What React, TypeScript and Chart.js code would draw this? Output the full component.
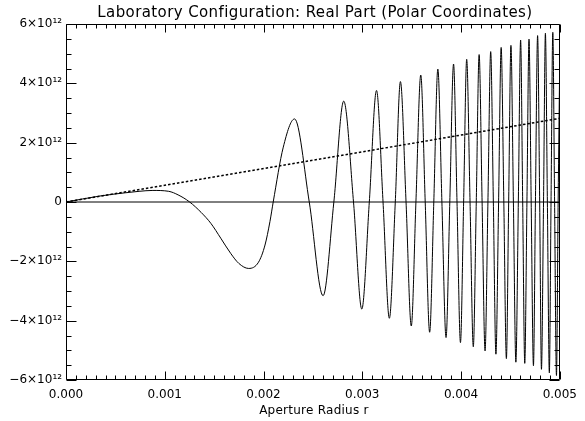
import React, { useEffect, useRef } from 'react';
import { Chart, registerables } from 'chart.js';

Chart.register(...registerables);

// Aperture radius samples (extrema, zero crossings, shape points)
const RADIUS = [
  0, 0.00034, 0.0006, 0.00074, 0.00088, 0.00104, 0.001135, 0.001252,
  0.001368, 0.001467, 0.001567, 0.001667, 0.00175, 0.00185, 0.001949, 0.002015,
  0.002065, 0.002098, 0.0022, 0.002314, 0.002463, 0.002603, 0.002712,
  0.002812, 0.002911, 0.002995, 0.003071, 0.003144, 0.00321, 0.003274, 0.003334,
  0.003386, 0.003443, 0.003496, 0.003543, 0.003592, 0.003637, 0.003682, 0.003724,
  0.003765, 0.003806, 0.003848, 0.003886, 0.003924, 0.003959, 0.003994, 0.004026,
  0.004057, 0.004091, 0.004124, 0.004154, 0.004183, 0.004213, 0.004243, 0.004272,
  0.0043, 0.004327, 0.004353, 0.00438, 0.004406, 0.004433, 0.004459, 0.004482,
  0.004505, 0.00453, 0.004555, 0.00458, 0.004603, 0.004624, 0.004645, 0.004667,
  0.004688, 0.00471, 0.004733, 0.004753, 0.004775, 0.004796, 0.004814, 0.004835,
  0.004854, 0.004874, 0.004894, 0.004911, 0.004929, 0.004947, 0.004966, 0.004983,
  0.005,
];

// Real part values (units of 1e12)
const REAL_PART_E12 = [
  0, 0.2, 0.31, 0.36, 0.39, 0.36, 0.24, 0,
  -0.35, -0.72, -1.22, -1.73, -2.07, -2.24, -2.03, -1.45,
  -0.66, 0, 1.85, 2.8, 0, -3.16, 0,
  3.4, 0, -3.61, 0, 3.76, 0, -3.92, 0,
  4.06, 0, -4.18, 0, 4.28, 0, -4.39, 0,
  4.48, 0, -4.57, 0, 4.65, 0, -4.74, 0,
  4.81, 0, -4.88, 0, 4.97, 0, -5.02, 0,
  5.07, 0, -5.13, 0, 5.21, 0, -5.28, 0,
  5.28, 0, -5.4, 0, 5.46, 0, -5.44, 0,
  5.49, 0, -5.52, 0, 5.61, 0, -5.64, 0,
  5.69, 0, -5.76, 0, 5.72, 0, -5.85, 0,
  5.0,
];

// Dotted reference line
const TREND_RADIUS = [0, 0.005];
const TREND_E12 = [0, 2.82];

// Zero line
const ZERO_RADIUS = [0, 0.005];
const ZERO_E12 = [0, 0];

const X_TICKS = [0, 0.001, 0.002, 0.003, 0.004, 0.005];
const X_TICK_LABELS = ['0.000', '0.001', '0.002', '0.003', '0.004', '0.005'];
const Y_TICKS_E12 = [-6, -4, -2, 0, 2, 4, 6];
const Y_TICK_LABELS = ['\u22126\u00d710\u00b9\u00b2', '\u22124\u00d710\u00b9\u00b2', '\u22122\u00d710\u00b9\u00b2', '0', '2\u00d710\u00b9\u00b2', '4\u00d710\u00b9\u00b2', '6\u00d710\u00b9\u00b2'];
const X_MINOR_STEP = 0.0001;
const Y_MINOR_STEP_E12 = 0.5;

const TITLE = 'Laboratory Configuration: Real Part (Polar Coordinates)';
const X_TITLE = 'Aperture Radius r';
const FONT = '"DejaVu Sans", sans-serif';

const E12 = 1e12;

const idlFrame = {
  id: 'idlFrame',
  afterDraw(chart: any) {
    const { ctx, chartArea: a, scales } = chart;
    const xs = scales.x;
    const ys = scales.y;
    const L = Math.round(a.left) + 0.5;
    const R = Math.round(a.right) - 0.5;
    const T = Math.round(a.top) + 0.5;
    const B = Math.round(a.bottom) - 0.5;
    ctx.save();
    ctx.strokeStyle = '#000';
    ctx.lineWidth = 1;
    ctx.beginPath();
    ctx.rect(L, T, R - L, B - T);
    // x ticks (major + minor, inward, bottom and top)
    const nx = Math.round((xs.max - xs.min) / X_MINOR_STEP);
    for (let i = 0; i <= nx; i++) {
      const v = xs.min + i * X_MINOR_STEP;
      const major = X_TICKS.some((t) => Math.abs(t - v) < X_MINOR_STEP / 10);
      const len = major ? 8 : 4;
      const px = Math.round(xs.getPixelForValue(v)) + 0.5;
      ctx.moveTo(px, B);
      ctx.lineTo(px, B - len);
      ctx.moveTo(px, T);
      ctx.lineTo(px, T + len);
    }
    // y ticks (major + minor, inward, left and right)
    const ny = Math.round((ys.max - ys.min) / (Y_MINOR_STEP_E12 * E12));
    for (let i = 0; i <= ny; i++) {
      const v = ys.min + i * Y_MINOR_STEP_E12 * E12;
      const major = Y_TICKS_E12.some((t) => Math.abs(t * E12 - v) < E12 / 10);
      const len = major ? 10 : 5;
      const py = Math.round(ys.getPixelForValue(v)) + 0.5;
      ctx.moveTo(L, py);
      ctx.lineTo(L + len, py);
      ctx.moveTo(R, py);
      ctx.lineTo(R - len, py);
    }
    ctx.stroke();
    ctx.fillStyle = '#000';
    ctx.textAlign = 'center';
    ctx.textBaseline = 'alphabetic';
    ctx.font = '15px ' + FONT;
    try { (ctx as any).letterSpacing = '0.4px'; } catch (e) { /* ignore */ }
    ctx.fillText(TITLE, (a.left + a.right) / 2 + 2, 17);
    ctx.font = '12px ' + FONT;
    try { (ctx as any).letterSpacing = '0.25px'; } catch (e) { /* ignore */ }
    ctx.fillText(X_TITLE, (a.left + a.right) / 2 + 1, 413.5);
    try { (ctx as any).letterSpacing = '0px'; } catch (e) { /* ignore */ }
    ctx.restore();
  },
};

export default function App() {
  const ref = useRef<HTMLCanvasElement | null>(null);
  useEffect(() => {
    if (!ref.current) return;
    const chart = new Chart(ref.current, {
      type: 'line',
      data: {
        datasets: [
          {
            label: 'Real part',
            data: RADIUS.map((r, i) => ({ x: r, y: REAL_PART_E12[i] * E12 })),
            borderColor: '#000',
            borderWidth: 1,
            pointRadius: 0,
            cubicInterpolationMode: 'monotone',
            fill: false,
          },
          {
            label: 'Trend',
            data: TREND_RADIUS.map((r, i) => ({ x: r, y: TREND_E12[i] * E12 })),
            borderColor: '#000',
            borderWidth: 1.5,
            borderDash: [2.5, 2],
            pointRadius: 0,
            fill: false,
          },
          {
            label: 'Zero',
            data: ZERO_RADIUS.map((r, i) => ({ x: r, y: ZERO_E12[i] * E12 })),
            borderColor: '#000',
            borderWidth: 1,
            pointRadius: 0,
            fill: false,
          },
        ],
      },
      options: {
        animation: false,
        responsive: false,
        maintainAspectRatio: false,
        events: [],
        layout: { padding: { top: 24, right: 17, left: 0, bottom: 0 } },
        plugins: {
          legend: { display: false },
          tooltip: { enabled: false },
          title: { display: false },
        },
        scales: {
          x: {
            type: 'linear',
            min: 0,
            max: 0.005,
            afterBuildTicks: (scale: any) => {
              scale.ticks = X_TICKS.map((v) => ({ value: v }));
            },
            afterFit: (scale: any) => {
              scale.height = 41;
            },
            grid: { display: false, drawTicks: false, tickLength: 0 },
            border: { display: false },
            ticks: {
              autoSkip: false,
              maxRotation: 0,
              minRotation: 0,
              padding: 8,
              color: '#000',
              font: { family: FONT, size: 12 },
              callback: (_v: any, i: number) => X_TICK_LABELS[i],
            },
          },
          y: {
            type: 'linear',
            min: -6 * E12,
            max: 6 * E12,
            afterBuildTicks: (scale: any) => {
              scale.ticks = Y_TICKS_E12.map((v) => ({ value: v * E12 }));
            },
            afterFit: (scale: any) => {
              scale.width = 66;
            },
            grid: { display: false, drawTicks: false, tickLength: 0 },
            border: { display: false },
            ticks: {
              autoSkip: false,
              padding: 4,
              color: '#000',
              font: { family: FONT, size: 12 },
              callback: (_v: any, i: number) => Y_TICK_LABELS[i],
            },
          },
        },
      } as any,
      plugins: [idlFrame],
    });
    return () => chart.destroy();
  }, []);
  return (
    <div style={{ position: 'absolute', left: 0, top: 0, width: 585, height: 421, background: '#fff' }}>
      <canvas ref={ref} width={585} height={421} />
    </div>
  );
}
